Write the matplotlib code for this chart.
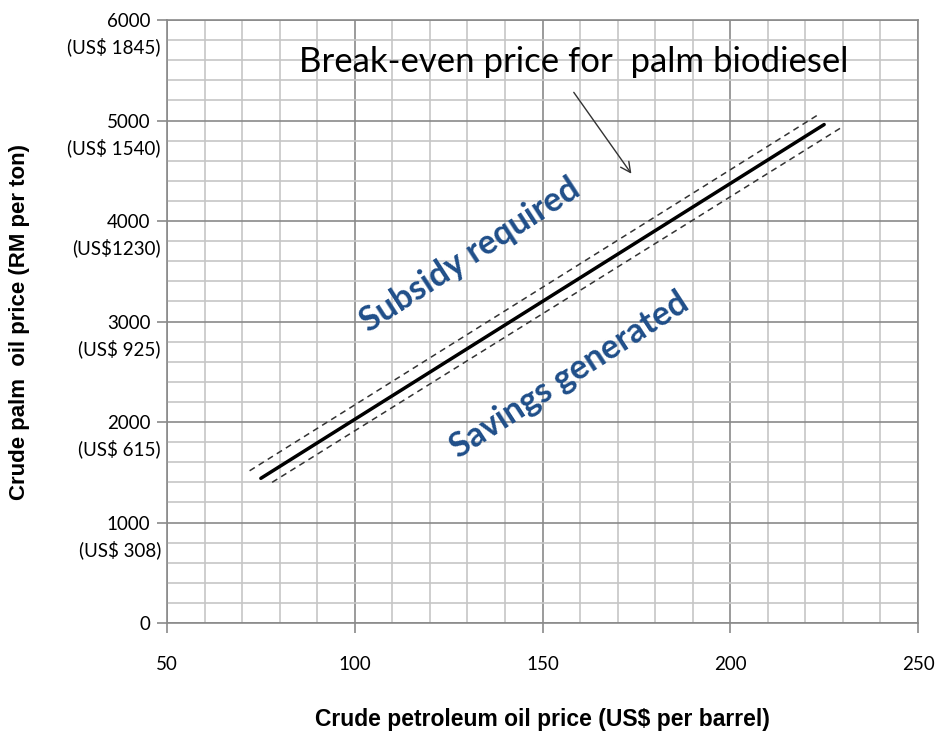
import matplotlib.pyplot as plt
from matplotlib.ticker import MultipleLocator
from matplotlib import transforms

# break-even line and the +/- band around it
be_x = [75, 225]
be_y = [1440, 4960]
upper_x = [72, 223.5]
upper_y = [1515, 5060]
lower_x = [78, 230]
lower_y = [1400, 4940]

x_ticks = [50, 100, 150, 200, 250]
y_ticks = [0, 1000, 2000, 3000, 4000, 5000, 6000]
usd_labels = ['', '(US$ 308)', '(US$ 615)', '(US$ 925)', '(US$1230)', '(US$ 1540)', '(US$ 1845)']

fig = plt.figure(figsize=(9.36, 7.31), dpi=100)
ax = fig.add_axes([0.1784, 0.1477, 0.8024, 0.8249])

ax.set_xlim(50, 250)
ax.set_ylim(0, 6000)
ax.xaxis.set_minor_locator(MultipleLocator(10))
ax.yaxis.set_minor_locator(MultipleLocator(200))
ax.set_xticks(x_ticks)
ax.set_yticks(y_ticks)
ax.set_xticklabels([str(v) for v in x_ticks], fontfamily='Lato', fontsize=13.5)
ax.set_yticklabels([str(v) for v in y_ticks], fontfamily='Lato', fontsize=13.5)

ax.grid(which='minor', color='#c6c6c6', linewidth=1.2)
ax.grid(which='major', color='#8a8a8a', linewidth=1.2)
ax.set_axisbelow(True)
for s in ax.spines.values():
    s.set_color('#8a8a8a')
    s.set_linewidth(1.2)
ax.tick_params(which='major', length=7, width=1.2, color='#8a8a8a', pad=5)
ax.tick_params(which='minor', length=0)
ax.tick_params(axis='x', pad=17)

# second line of the y tick labels
trans = transforms.blended_transform_factory(ax.transAxes, ax.transData)
for v, lab in zip(y_ticks, usd_labels):
    if lab:
        t = ax.text(0, v, lab, transform=trans, ha='right', va='center',
                    fontfamily='Lato', fontsize=13.5)
        t.set_transform(trans + transforms.ScaledTranslation(-6 / 100, -27 / 100, fig.dpi_scale_trans))

ax.plot(be_x, be_y, color='black', linewidth=2.5, solid_capstyle='round')
ax.plot(upper_x, upper_y, color='#333333', linewidth=1.1, dashes=(4, 3))
ax.plot(lower_x, lower_y, color='#333333', linewidth=1.1, dashes=(4, 3))

ax.text(158.4, 5582, 'Break-even price for  palm biodiesel', ha='center', va='center',
        fontfamily='Lato', fontsize=25, color='black')
ax.annotate('', xy=(174.1, 4448), xytext=(157.9, 5303),
            arrowprops=dict(arrowstyle='->', color='#333333', linewidth=1, mutation_scale=18))

blue = '#1f4e89'
ax.text(130.7, 3662, 'Subsidy required', rotation=33, ha='center', va='center',
        fontfamily='Lato', fontweight='bold', fontsize=24.5, color=blue, rotation_mode='anchor')
ax.text(157.3, 2468, 'Savings generated', rotation=33, ha='center', va='center',
        fontfamily='Lato', fontweight='bold', fontsize=24.5, color=blue, rotation_mode='anchor')

ax.set_xlabel('Crude petroleum oil price (US$ per barrel)', fontfamily='Liberation Sans',
              fontweight='bold', fontsize=16.5)
ax.set_ylabel('Crude palm  oil price (RM per ton)', fontfamily='Liberation Sans',
              fontweight='bold', fontsize=16)
ax.xaxis.set_label_coords(0.5, -0.141)
ax.yaxis.set_label_coords(-0.182, 0.5)

fig.savefig('out.png', dpi=100)
